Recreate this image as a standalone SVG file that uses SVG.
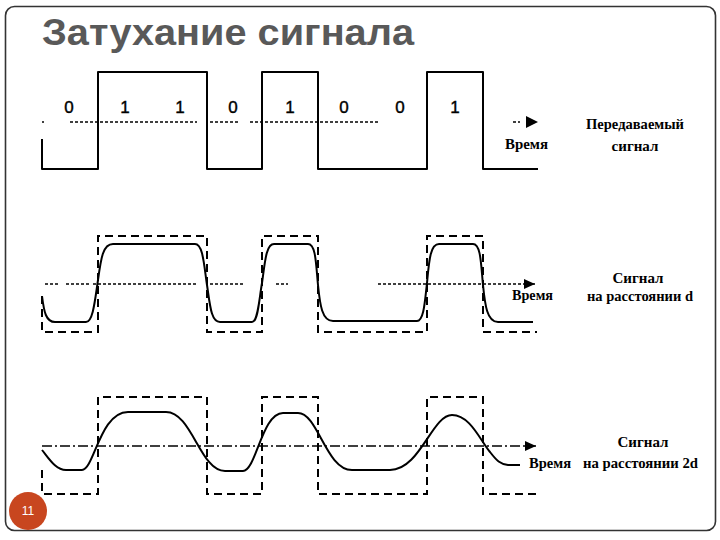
<svg xmlns="http://www.w3.org/2000/svg" width="720" height="540" viewBox="0 0 720 540">
<defs>
<style>
.sig{fill:none;stroke:#000;stroke-width:2;stroke-linejoin:round}
.ideal{fill:none;stroke:#000;stroke-width:2;stroke-dasharray:8 5}
.axis{fill:none;stroke:#000;stroke-width:1.3;stroke-dasharray:3 2}
.axis2{fill:none;stroke:#000;stroke-width:1.3;stroke-dasharray:10 3 2 3}
.dig{font-family:"Liberation Sans",Arial,sans-serif;font-size:17px;fill:#000;stroke:#000;stroke-width:0.4;text-anchor:middle}
.lab{font-family:"Liberation Serif","Times New Roman",serif;font-weight:bold;font-size:15px;fill:#000}
.mid{text-anchor:middle}
</style>
<marker id="arr" markerWidth="12" markerHeight="10" refX="11" refY="5" orient="auto" markerUnits="userSpaceOnUse">
<path d="M0,0 L11,5 L0,10 Z" fill="#000"/>
</marker>
</defs>
<rect x="0" y="0" width="720" height="540" fill="#fff"/>
<rect id="frame" x="5.5" y="6.5" width="710" height="524" rx="9" fill="#fff" stroke="#333" stroke-width="1.6"/>
<text id="title" x="42" y="45" font-family="Liberation Sans,Arial,sans-serif" font-weight="bold" font-size="36" fill="#595959" textLength="372" lengthAdjust="spacingAndGlyphs">Затухание сигнала</text>

<g id="connectors">
<path class="axis" d="M42,122 H44 M70,122 H197 M210,122 H240 M250,122 H380 M513,122 H520"/>
<path d="M526,116 L538,122 L526,128 Z" fill="#000"/>
<path class="axis" d="M45,284 H60 M66,284 H90 M93,284 H197 M210,284 H245 M276,284 H288 M378,284 H535" marker-end="url(#arr)"/>
<path class="axis2" d="M42,446 H536" marker-end="url(#arr)"/>
</g>

<g id="transmitted">
<path class="sig" d="M42,139 V169 H98 V72 H207 V169 H262 V72 H318 V169 H427 V72 H483 V169 H538"/>
<text class="dig" x="69" y="113">0</text>
<text class="dig" x="125" y="113">1</text>
<text class="dig" x="180" y="113">1</text>
<text class="dig" x="233" y="113">0</text>
<text class="dig" x="290" y="113">1</text>
<text class="dig" x="344" y="113">0</text>
<text class="dig" x="400" y="113">0</text>
<text class="dig" x="455" y="113">1</text>
<text class="lab" x="505" y="149" textLength="43" lengthAdjust="spacingAndGlyphs">Время</text>
<text class="lab mid" x="635" y="129" textLength="98" lengthAdjust="spacingAndGlyphs">Передаваемый</text>
<text class="lab mid" x="635" y="151">сигнал</text>
</g>

<g id="signal-d">
<path class="ideal" d="M42,296 V332 H98 V236 H207 V332 H262 V236 H318 V332 H427 V236 H483 V332 H537"/>
<path class="sig" d="M42,296 C44,312 46,322 55,322 H86 C93,322 95,300 98,280 C101,258 103,244 113,244 H195 C203,244 204,265 207,285 C210,305 211,322 220,322 H252 C258,322 259,300 262,283 C265,262 266,244 274,244 H308 C316,244 316,265 318,285 C320,305 322,321 333,321 H417 C424,321 425,300 427,283 C429,262 430,244 439,244 H473 C481,244 481,265 483,285 C485,305 487,322 498,322 H533"/>
<text class="lab" x="512" y="300" textLength="41" lengthAdjust="spacingAndGlyphs">Время</text>
<text class="lab mid" x="638" y="283">Сигнал</text>
<text class="lab" x="587" y="301" textLength="106" lengthAdjust="spacingAndGlyphs">на расстоянии d</text>
</g>

<g id="signal-2d">
<path class="ideal" d="M42,470 V494 H98 V397 H207 V494 H262 V397 H318 V494 H427 V397 H483 V494 H537"/>
<path class="sig" d="M42,450 C50,460 56,470 66,470 L82,470 C94,470 100,412 128,412 L166,412 C192,412 200,471 225,471 L243,471 C256,471 262,413 283,413 L298,413 C318,413 326,470 352,470 L390,470 C420,470 432,415 452,415 C470,415 480,440 490,452 C497,461 500,464 508,465 L520,465"/>
<text class="lab" x="529" y="468" textLength="42" lengthAdjust="spacingAndGlyphs">Время</text>
<text class="lab mid" x="643" y="447">Сигнал</text>
<text class="lab" x="583" y="468" textLength="115" lengthAdjust="spacingAndGlyphs">на расстоянии 2d</text>
</g>

<g id="page-number">
<circle cx="28" cy="511" r="19" fill="#c8461f"/>
<text x="28" y="515" font-family="Liberation Sans,Arial,sans-serif" font-size="12" fill="#fff" text-anchor="middle">11</text>
</g>
</svg>
